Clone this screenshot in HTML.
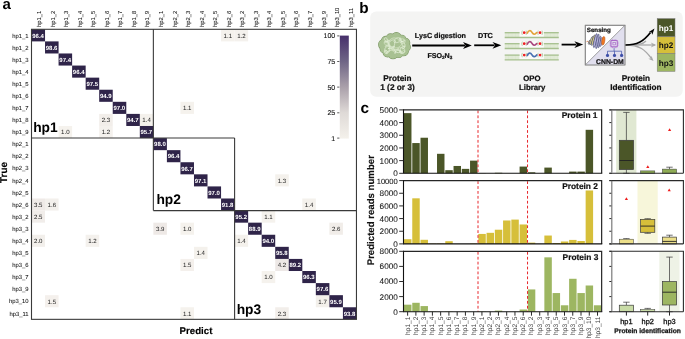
<!DOCTYPE html>
<html><head><meta charset="utf-8"><title>Figure</title>
<style>html,body{margin:0;padding:0;background:#fff;}body{width:685px;height:339px;position:relative;overflow:hidden;font-family:"Liberation Sans", sans-serif;}</style>
</head><body>
<svg width="685" height="339" viewBox="0 0 685 339" style="position:absolute;left:0;top:0;will-change:transform" text-rendering="geometricPrecision" font-family='"Liberation Sans", sans-serif'>
<defs><linearGradient id="cb" x1="0" y1="0" x2="0" y2="1"><stop offset="0" stop-color="#47306b"/><stop offset="0.25" stop-color="#6f6586"/><stop offset="0.5" stop-color="#aaa0aa"/><stop offset="0.75" stop-color="#dfdad7"/><stop offset="1" stop-color="#f4f1eb"/></linearGradient><marker id="ah" viewBox="0 0 10 10" refX="9" refY="5" markerWidth="4" markerHeight="4" orient="auto-start-reverse" markerUnits="userSpaceOnUse"><path d="M0 0 L10 5 L0 10 L3 5 Z" fill="#000"/></marker></defs>
<rect width="685" height="339" fill="#fff"/>
<text x="2.5" y="9.4" font-size="15" font-weight="bold" fill="#000">a</text>
<rect x="221.06" y="29.30" width="13.54" height="12.09" fill="#f5f2ed"/>
<text x="227.83" y="37.69" font-size="6.1" fill="#1a1a1a" text-anchor="middle">1.1</text>
<rect x="234.60" y="29.30" width="13.54" height="12.09" fill="#f4f1ed"/>
<text x="241.37" y="37.69" font-size="6.1" fill="#1a1a1a" text-anchor="middle">1.2</text>
<rect x="180.44" y="101.81" width="13.54" height="12.09" fill="#f5f2ed"/>
<text x="187.21" y="110.20" font-size="6.1" fill="#1a1a1a" text-anchor="middle">1.1</text>
<rect x="99.20" y="113.89" width="13.54" height="12.09" fill="#f2eeea"/>
<text x="105.97" y="122.29" font-size="6.1" fill="#1a1a1a" text-anchor="middle">2.3</text>
<rect x="139.82" y="113.89" width="13.54" height="12.09" fill="#f4f1ec"/>
<text x="146.59" y="122.29" font-size="6.1" fill="#1a1a1a" text-anchor="middle">1.4</text>
<rect x="58.58" y="125.98" width="13.54" height="12.09" fill="#f5f2ed"/>
<text x="65.35" y="134.37" font-size="6.1" fill="#1a1a1a" text-anchor="middle">1.0</text>
<rect x="99.20" y="125.98" width="13.54" height="12.09" fill="#f4f1ed"/>
<text x="105.97" y="134.37" font-size="6.1" fill="#1a1a1a" text-anchor="middle">1.2</text>
<rect x="275.22" y="174.32" width="13.54" height="12.09" fill="#f4f1ec"/>
<text x="281.99" y="182.71" font-size="6.1" fill="#1a1a1a" text-anchor="middle">1.3</text>
<rect x="31.50" y="198.49" width="13.54" height="12.09" fill="#efeae7"/>
<text x="38.27" y="206.88" font-size="6.1" fill="#1a1a1a" text-anchor="middle">3.5</text>
<rect x="45.04" y="198.49" width="13.54" height="12.09" fill="#f3f0ec"/>
<text x="51.81" y="206.88" font-size="6.1" fill="#1a1a1a" text-anchor="middle">1.6</text>
<rect x="302.30" y="198.49" width="13.54" height="12.09" fill="#f4f1ec"/>
<text x="309.07" y="206.88" font-size="6.1" fill="#1a1a1a" text-anchor="middle">1.4</text>
<rect x="31.50" y="210.58" width="13.54" height="12.09" fill="#f1edea"/>
<text x="38.27" y="218.97" font-size="6.1" fill="#1a1a1a" text-anchor="middle">2.5</text>
<rect x="261.68" y="210.58" width="13.54" height="12.09" fill="#f5f2ed"/>
<text x="268.45" y="218.97" font-size="6.1" fill="#1a1a1a" text-anchor="middle">1.1</text>
<rect x="153.36" y="222.66" width="13.54" height="12.09" fill="#eee9e6"/>
<text x="160.13" y="231.05" font-size="6.1" fill="#1a1a1a" text-anchor="middle">3.9</text>
<rect x="180.44" y="222.66" width="13.54" height="12.09" fill="#f5f2ed"/>
<text x="187.21" y="231.05" font-size="6.1" fill="#1a1a1a" text-anchor="middle">1.0</text>
<rect x="329.38" y="222.66" width="13.54" height="12.09" fill="#f1ede9"/>
<text x="336.15" y="231.05" font-size="6.1" fill="#1a1a1a" text-anchor="middle">2.6</text>
<rect x="31.50" y="234.75" width="13.54" height="12.09" fill="#f2efeb"/>
<text x="38.27" y="243.14" font-size="6.1" fill="#1a1a1a" text-anchor="middle">2.0</text>
<rect x="85.66" y="234.75" width="13.54" height="12.09" fill="#f4f1ed"/>
<text x="92.43" y="243.14" font-size="6.1" fill="#1a1a1a" text-anchor="middle">1.2</text>
<rect x="234.60" y="234.75" width="13.54" height="12.09" fill="#f4f1ec"/>
<text x="241.37" y="243.14" font-size="6.1" fill="#1a1a1a" text-anchor="middle">1.4</text>
<rect x="193.98" y="246.83" width="13.54" height="12.09" fill="#f4f1ec"/>
<text x="200.75" y="255.22" font-size="6.1" fill="#1a1a1a" text-anchor="middle">1.4</text>
<rect x="180.44" y="258.92" width="13.54" height="12.09" fill="#f4f0ec"/>
<text x="187.21" y="267.31" font-size="6.1" fill="#1a1a1a" text-anchor="middle">1.5</text>
<rect x="275.22" y="258.92" width="13.54" height="12.09" fill="#ede8e6"/>
<text x="281.99" y="267.31" font-size="6.1" fill="#1a1a1a" text-anchor="middle">4.2</text>
<rect x="261.68" y="271.00" width="13.54" height="12.09" fill="#f5f2ed"/>
<text x="268.45" y="279.39" font-size="6.1" fill="#1a1a1a" text-anchor="middle">1.0</text>
<rect x="45.04" y="295.17" width="13.54" height="12.09" fill="#f4f0ec"/>
<text x="51.81" y="303.56" font-size="6.1" fill="#1a1a1a" text-anchor="middle">1.5</text>
<rect x="315.84" y="295.17" width="13.54" height="12.09" fill="#f3f0eb"/>
<text x="322.61" y="303.56" font-size="6.1" fill="#1a1a1a" text-anchor="middle">1.7</text>
<rect x="180.44" y="307.26" width="13.54" height="12.09" fill="#f5f2ed"/>
<text x="187.21" y="315.65" font-size="6.1" fill="#1a1a1a" text-anchor="middle">1.1</text>
<rect x="275.22" y="307.26" width="13.54" height="12.09" fill="#f2eeea"/>
<text x="281.99" y="315.65" font-size="6.1" fill="#1a1a1a" text-anchor="middle">2.3</text>
<rect x="31.50" y="29.30" width="13.54" height="12.09" fill="#2f2449"/>
<text x="38.07" y="37.64" font-size="6.0" font-weight="bold" fill="#fff" text-anchor="middle">96.4</text>
<rect x="45.04" y="41.39" width="13.54" height="12.09" fill="#2f2449"/>
<text x="51.61" y="49.73" font-size="6.0" font-weight="bold" fill="#fff" text-anchor="middle">98.6</text>
<rect x="58.58" y="53.47" width="13.54" height="12.09" fill="#2f2449"/>
<text x="65.15" y="61.81" font-size="6.0" font-weight="bold" fill="#fff" text-anchor="middle">97.4</text>
<rect x="72.12" y="65.56" width="13.54" height="12.09" fill="#2f2449"/>
<text x="78.69" y="73.90" font-size="6.0" font-weight="bold" fill="#fff" text-anchor="middle">96.4</text>
<rect x="85.66" y="77.64" width="13.54" height="12.09" fill="#2f2449"/>
<text x="92.23" y="85.98" font-size="6.0" font-weight="bold" fill="#fff" text-anchor="middle">97.5</text>
<rect x="99.20" y="89.73" width="13.54" height="12.09" fill="#2f2449"/>
<text x="105.77" y="98.07" font-size="6.0" font-weight="bold" fill="#fff" text-anchor="middle">94.9</text>
<rect x="112.74" y="101.81" width="13.54" height="12.09" fill="#2f2449"/>
<text x="119.31" y="110.15" font-size="6.0" font-weight="bold" fill="#fff" text-anchor="middle">97.0</text>
<rect x="126.28" y="113.89" width="13.54" height="12.09" fill="#2f2449"/>
<text x="132.85" y="122.24" font-size="6.0" font-weight="bold" fill="#fff" text-anchor="middle">94.7</text>
<rect x="139.82" y="125.98" width="13.54" height="12.09" fill="#2f2449"/>
<text x="146.39" y="134.32" font-size="6.0" font-weight="bold" fill="#fff" text-anchor="middle">95.7</text>
<rect x="153.36" y="138.07" width="13.54" height="12.09" fill="#2f2449"/>
<text x="159.93" y="146.41" font-size="6.0" font-weight="bold" fill="#fff" text-anchor="middle">98.0</text>
<rect x="166.90" y="150.15" width="13.54" height="12.09" fill="#2f2449"/>
<text x="173.47" y="158.49" font-size="6.0" font-weight="bold" fill="#fff" text-anchor="middle">96.4</text>
<rect x="180.44" y="162.24" width="13.54" height="12.09" fill="#2f2449"/>
<text x="187.01" y="170.58" font-size="6.0" font-weight="bold" fill="#fff" text-anchor="middle">96.7</text>
<rect x="193.98" y="174.32" width="13.54" height="12.09" fill="#2f2449"/>
<text x="200.55" y="182.66" font-size="6.0" font-weight="bold" fill="#fff" text-anchor="middle">97.1</text>
<rect x="207.52" y="186.41" width="13.54" height="12.09" fill="#2f2449"/>
<text x="214.09" y="194.75" font-size="6.0" font-weight="bold" fill="#fff" text-anchor="middle">97.0</text>
<rect x="221.06" y="198.49" width="13.54" height="12.09" fill="#2f2449"/>
<text x="227.63" y="206.83" font-size="6.0" font-weight="bold" fill="#fff" text-anchor="middle">91.8</text>
<rect x="234.60" y="210.58" width="13.54" height="12.09" fill="#2f2449"/>
<text x="241.17" y="218.92" font-size="6.0" font-weight="bold" fill="#fff" text-anchor="middle">95.2</text>
<rect x="248.14" y="222.66" width="13.54" height="12.09" fill="#2f2449"/>
<text x="254.71" y="231.00" font-size="6.0" font-weight="bold" fill="#fff" text-anchor="middle">88.9</text>
<rect x="261.68" y="234.75" width="13.54" height="12.09" fill="#2f2449"/>
<text x="268.25" y="243.09" font-size="6.0" font-weight="bold" fill="#fff" text-anchor="middle">94.0</text>
<rect x="275.22" y="246.83" width="13.54" height="12.09" fill="#2f2449"/>
<text x="281.79" y="255.17" font-size="6.0" font-weight="bold" fill="#fff" text-anchor="middle">95.8</text>
<rect x="288.76" y="258.92" width="13.54" height="12.09" fill="#2f2449"/>
<text x="295.33" y="267.26" font-size="6.0" font-weight="bold" fill="#fff" text-anchor="middle">89.2</text>
<rect x="302.30" y="271.00" width="13.54" height="12.09" fill="#2f2449"/>
<text x="308.87" y="279.34" font-size="6.0" font-weight="bold" fill="#fff" text-anchor="middle">96.3</text>
<rect x="315.84" y="283.09" width="13.54" height="12.09" fill="#2f2449"/>
<text x="322.41" y="291.43" font-size="6.0" font-weight="bold" fill="#fff" text-anchor="middle">97.6</text>
<rect x="329.38" y="295.17" width="13.54" height="12.09" fill="#2f2449"/>
<text x="335.95" y="303.51" font-size="6.0" font-weight="bold" fill="#fff" text-anchor="middle">95.9</text>
<rect x="342.92" y="307.26" width="13.54" height="12.09" fill="#2f2449"/>
<text x="349.49" y="315.60" font-size="6.0" font-weight="bold" fill="#fff" text-anchor="middle">93.8</text>
<rect x="31.50" y="29.30" width="324.96" height="290.04" fill="none" stroke="#3a3a3a" stroke-width="1.1"/>
<path d="M31.50 138.07 H234.60 M153.36 210.58 H356.46 M153.36 29.30 V210.58 M234.60 138.07 V319.34" stroke="#3a3a3a" stroke-width="1.1" fill="none"/>
<text transform="translate(41.17,27) rotate(-90)" font-size="5.8" fill="#111" stroke="#111" stroke-width="0.06" text-anchor="start">hp1_1</text>
<text x="28.6" y="37.54" font-size="5.9" fill="#111" stroke="#111" stroke-width="0.06" text-anchor="end">hp1_1</text>
<text transform="translate(54.71,27) rotate(-90)" font-size="5.8" fill="#111" stroke="#111" stroke-width="0.06" text-anchor="start">hp1_2</text>
<text x="28.6" y="49.63" font-size="5.9" fill="#111" stroke="#111" stroke-width="0.06" text-anchor="end">hp1_2</text>
<text transform="translate(68.25,27) rotate(-90)" font-size="5.8" fill="#111" stroke="#111" stroke-width="0.06" text-anchor="start">hp1_3</text>
<text x="28.6" y="61.71" font-size="5.9" fill="#111" stroke="#111" stroke-width="0.06" text-anchor="end">hp1_3</text>
<text transform="translate(81.79,27) rotate(-90)" font-size="5.8" fill="#111" stroke="#111" stroke-width="0.06" text-anchor="start">hp1_4</text>
<text x="28.6" y="73.80" font-size="5.9" fill="#111" stroke="#111" stroke-width="0.06" text-anchor="end">hp1_4</text>
<text transform="translate(95.33,27) rotate(-90)" font-size="5.8" fill="#111" stroke="#111" stroke-width="0.06" text-anchor="start">hp1_5</text>
<text x="28.6" y="85.88" font-size="5.9" fill="#111" stroke="#111" stroke-width="0.06" text-anchor="end">hp1_5</text>
<text transform="translate(108.87,27) rotate(-90)" font-size="5.8" fill="#111" stroke="#111" stroke-width="0.06" text-anchor="start">hp1_6</text>
<text x="28.6" y="97.97" font-size="5.9" fill="#111" stroke="#111" stroke-width="0.06" text-anchor="end">hp1_6</text>
<text transform="translate(122.41,27) rotate(-90)" font-size="5.8" fill="#111" stroke="#111" stroke-width="0.06" text-anchor="start">hp1_7</text>
<text x="28.6" y="110.05" font-size="5.9" fill="#111" stroke="#111" stroke-width="0.06" text-anchor="end">hp1_7</text>
<text transform="translate(135.95,27) rotate(-90)" font-size="5.8" fill="#111" stroke="#111" stroke-width="0.06" text-anchor="start">hp1_8</text>
<text x="28.6" y="122.14" font-size="5.9" fill="#111" stroke="#111" stroke-width="0.06" text-anchor="end">hp1_8</text>
<text transform="translate(149.49,27) rotate(-90)" font-size="5.8" fill="#111" stroke="#111" stroke-width="0.06" text-anchor="start">hp1_9</text>
<text x="28.6" y="134.22" font-size="5.9" fill="#111" stroke="#111" stroke-width="0.06" text-anchor="end">hp1_9</text>
<text transform="translate(163.03,27) rotate(-90)" font-size="5.8" fill="#111" stroke="#111" stroke-width="0.06" text-anchor="start">hp2_1</text>
<text x="28.6" y="146.31" font-size="5.9" fill="#111" stroke="#111" stroke-width="0.06" text-anchor="end">hp2_1</text>
<text transform="translate(176.57,27) rotate(-90)" font-size="5.8" fill="#111" stroke="#111" stroke-width="0.06" text-anchor="start">hp2_2</text>
<text x="28.6" y="158.39" font-size="5.9" fill="#111" stroke="#111" stroke-width="0.06" text-anchor="end">hp2_2</text>
<text transform="translate(190.11,27) rotate(-90)" font-size="5.8" fill="#111" stroke="#111" stroke-width="0.06" text-anchor="start">hp2_3</text>
<text x="28.6" y="170.48" font-size="5.9" fill="#111" stroke="#111" stroke-width="0.06" text-anchor="end">hp2_3</text>
<text transform="translate(203.65,27) rotate(-90)" font-size="5.8" fill="#111" stroke="#111" stroke-width="0.06" text-anchor="start">hp2_4</text>
<text x="28.6" y="182.56" font-size="5.9" fill="#111" stroke="#111" stroke-width="0.06" text-anchor="end">hp2_4</text>
<text transform="translate(217.19,27) rotate(-90)" font-size="5.8" fill="#111" stroke="#111" stroke-width="0.06" text-anchor="start">hp2_5</text>
<text x="28.6" y="194.65" font-size="5.9" fill="#111" stroke="#111" stroke-width="0.06" text-anchor="end">hp2_5</text>
<text transform="translate(230.73,27) rotate(-90)" font-size="5.8" fill="#111" stroke="#111" stroke-width="0.06" text-anchor="start">hp2_6</text>
<text x="28.6" y="206.73" font-size="5.9" fill="#111" stroke="#111" stroke-width="0.06" text-anchor="end">hp2_6</text>
<text transform="translate(244.27,27) rotate(-90)" font-size="5.8" fill="#111" stroke="#111" stroke-width="0.06" text-anchor="start">hp3_2</text>
<text x="28.6" y="218.82" font-size="5.9" fill="#111" stroke="#111" stroke-width="0.06" text-anchor="end">hp3_2</text>
<text transform="translate(257.81,27) rotate(-90)" font-size="5.8" fill="#111" stroke="#111" stroke-width="0.06" text-anchor="start">hp3_3</text>
<text x="28.6" y="230.90" font-size="5.9" fill="#111" stroke="#111" stroke-width="0.06" text-anchor="end">hp3_3</text>
<text transform="translate(271.35,27) rotate(-90)" font-size="5.8" fill="#111" stroke="#111" stroke-width="0.06" text-anchor="start">hp3_4</text>
<text x="28.6" y="242.99" font-size="5.9" fill="#111" stroke="#111" stroke-width="0.06" text-anchor="end">hp3_4</text>
<text transform="translate(284.89,27) rotate(-90)" font-size="5.8" fill="#111" stroke="#111" stroke-width="0.06" text-anchor="start">hp3_5</text>
<text x="28.6" y="255.07" font-size="5.9" fill="#111" stroke="#111" stroke-width="0.06" text-anchor="end">hp3_5</text>
<text transform="translate(298.43,27) rotate(-90)" font-size="5.8" fill="#111" stroke="#111" stroke-width="0.06" text-anchor="start">hp3_6</text>
<text x="28.6" y="267.16" font-size="5.9" fill="#111" stroke="#111" stroke-width="0.06" text-anchor="end">hp3_6</text>
<text transform="translate(311.97,27) rotate(-90)" font-size="5.8" fill="#111" stroke="#111" stroke-width="0.06" text-anchor="start">hp3_7</text>
<text x="28.6" y="279.24" font-size="5.9" fill="#111" stroke="#111" stroke-width="0.06" text-anchor="end">hp3_7</text>
<text transform="translate(325.51,27) rotate(-90)" font-size="5.8" fill="#111" stroke="#111" stroke-width="0.06" text-anchor="start">hp3_9</text>
<text x="28.6" y="291.33" font-size="5.9" fill="#111" stroke="#111" stroke-width="0.06" text-anchor="end">hp3_9</text>
<text transform="translate(339.05,27) rotate(-90)" font-size="5.8" fill="#111" stroke="#111" stroke-width="0.06" text-anchor="start">hp3_10</text>
<text x="28.6" y="303.41" font-size="5.9" fill="#111" stroke="#111" stroke-width="0.06" text-anchor="end">hp3_10</text>
<text transform="translate(352.59,27) rotate(-90)" font-size="5.8" fill="#111" stroke="#111" stroke-width="0.06" text-anchor="start">hp3_11</text>
<text x="28.6" y="315.50" font-size="5.9" fill="#111" stroke="#111" stroke-width="0.06" text-anchor="end">hp3_11</text>
<text x="33.2" y="132" font-size="13.8" font-weight="bold" fill="#000">hp1</text>
<text x="156.4" y="203.8" font-size="13.8" font-weight="bold" fill="#000">hp2</text>
<text x="236.7" y="313.6" font-size="13.8" font-weight="bold" fill="#000">hp3</text>
<text transform="translate(7.3,172.5) rotate(-90)" font-size="9.9" font-weight="bold" fill="#000" stroke="#000" stroke-width="0.15" text-anchor="middle">True</text>
<text x="196" y="333.9" font-size="9.7" font-weight="bold" fill="#000" stroke="#000" stroke-width="0.15" text-anchor="middle">Predict</text>
<rect x="339.8" y="35.6" width="9" height="103" fill="url(#cb)"/>
<line x1="337.2" y1="35.9" x2="339.4" y2="35.9" stroke="#333" stroke-width="0.8"/>
<text x="335.2" y="38.30" font-size="7" fill="#111" stroke="#111" stroke-width="0.1" text-anchor="end">100</text>
<line x1="337.2" y1="61.5" x2="339.4" y2="61.5" stroke="#333" stroke-width="0.8"/>
<text x="335.2" y="63.90" font-size="7" fill="#111" stroke="#111" stroke-width="0.1" text-anchor="end">75</text>
<line x1="337.2" y1="87.1" x2="339.4" y2="87.1" stroke="#333" stroke-width="0.8"/>
<text x="335.2" y="89.50" font-size="7" fill="#111" stroke="#111" stroke-width="0.1" text-anchor="end">50</text>
<line x1="337.2" y1="112.8" x2="339.4" y2="112.8" stroke="#333" stroke-width="0.8"/>
<text x="335.2" y="115.20" font-size="7" fill="#111" stroke="#111" stroke-width="0.1" text-anchor="end">25</text>
<line x1="337.2" y1="138.1" x2="339.4" y2="138.1" stroke="#333" stroke-width="0.8"/>
<text x="335.2" y="140.50" font-size="7" fill="#111" stroke="#111" stroke-width="0.1" text-anchor="end">1</text>
<text x="359.3" y="12.6" font-size="15.3" font-weight="bold" fill="#000">b</text>
<rect x="370.2" y="11.6" width="312.5" height="85.1" rx="6" fill="#f4f4f3"/>
<g>
<circle cx="405.87" cy="47.04" r="4.40" fill="#7f9a68" stroke="#7f9a68" stroke-width="1.2"/>
<circle cx="403.53" cy="50.98" r="4.77" fill="#7f9a68" stroke="#7f9a68" stroke-width="1.2"/>
<circle cx="398.82" cy="53.53" r="3.90" fill="#7f9a68" stroke="#7f9a68" stroke-width="1.2"/>
<circle cx="393.01" cy="54.01" r="4.69" fill="#7f9a68" stroke="#7f9a68" stroke-width="1.2"/>
<circle cx="387.65" cy="52.29" r="4.51" fill="#7f9a68" stroke="#7f9a68" stroke-width="1.2"/>
<circle cx="384.18" cy="48.83" r="3.96" fill="#7f9a68" stroke="#7f9a68" stroke-width="1.2"/>
<circle cx="383.53" cy="44.56" r="4.87" fill="#7f9a68" stroke="#7f9a68" stroke-width="1.2"/>
<circle cx="385.87" cy="40.62" r="4.21" fill="#7f9a68" stroke="#7f9a68" stroke-width="1.2"/>
<circle cx="390.58" cy="38.07" r="4.18" fill="#7f9a68" stroke="#7f9a68" stroke-width="1.2"/>
<circle cx="396.39" cy="37.59" r="4.88" fill="#7f9a68" stroke="#7f9a68" stroke-width="1.2"/>
<circle cx="401.75" cy="39.31" r="3.98" fill="#7f9a68" stroke="#7f9a68" stroke-width="1.2"/>
<circle cx="405.22" cy="42.77" r="4.48" fill="#7f9a68" stroke="#7f9a68" stroke-width="1.2"/>
<ellipse cx="394.7" cy="45.8" rx="12.5" ry="9.5" fill="#7f9a68" stroke="#7f9a68" stroke-width="1.2"/>
<circle cx="405.87" cy="47.04" r="4.40" fill="#a8c192"/>
<circle cx="403.53" cy="50.98" r="4.77" fill="#a8c192"/>
<circle cx="398.82" cy="53.53" r="3.90" fill="#a8c192"/>
<circle cx="393.01" cy="54.01" r="4.69" fill="#a8c192"/>
<circle cx="387.65" cy="52.29" r="4.51" fill="#a8c192"/>
<circle cx="384.18" cy="48.83" r="3.96" fill="#a8c192"/>
<circle cx="383.53" cy="44.56" r="4.87" fill="#a8c192"/>
<circle cx="385.87" cy="40.62" r="4.21" fill="#a8c192"/>
<circle cx="390.58" cy="38.07" r="4.18" fill="#a8c192"/>
<circle cx="396.39" cy="37.59" r="4.88" fill="#a8c192"/>
<circle cx="401.75" cy="39.31" r="3.98" fill="#a8c192"/>
<circle cx="405.22" cy="42.77" r="4.48" fill="#a8c192"/>
<ellipse cx="394.7" cy="45.8" rx="12.5" ry="9.5" fill="#a8c192"/>
<path d="M397.36 52.51 L398.07 52.63 L398.74 52.61 L399.35 52.48 L399.86 52.25 L400.27 51.95 L400.55 51.61 L400.71 51.27 L400.74 50.95 L400.67 50.69 L400.51 50.51 L400.30 50.43 L400.06 50.45 L399.82 50.58 L399.63 50.82 L399.50 51.14 L399.46 51.52 L399.53 51.94 L399.71 52.37 L400.01 52.76 L400.41 53.10 L400.91 53.34 L401.47 53.47 L402.06 53.48 L402.66 53.35 L403.24 53.09 L403.75 52.71 L404.17 52.22 L404.49 51.66 L404.68 51.04 L404.74 50.42 L404.67 49.80 L404.49 49.24 L404.21 48.75 L403.86 48.36 L403.48 48.08 L403.08 47.91 L402.71 47.85 L402.39 47.89 L402.15 48.01 L402.02 48.18 L401.99 48.38 L402.08 48.56 L402.28 48.70 L402.57 48.77 L402.94 48.74 L403.35 48.60 L403.77 48.34 L404.17 47.95 L404.53 47.45 L404.80 46.84 L404.97 46.17 L405.02 45.44 L404.94 44.70 L404.73 43.97 L404.40 43.30 L403.97 42.71 L403.46 42.22 L402.90 41.84 L402.32 41.60 L401.75 41.48 L401.23 41.47 L400.79 41.57 L400.44 41.74 L400.20 41.95 L400.07 42.18 L400.06 42.38 L400.15 42.54 L400.33 42.62 L400.56 42.61 L400.82 42.49 L401.07 42.25 L401.28 41.91 L401.43 41.47 L401.48 40.96 L401.42 40.41 L401.24 39.83 L400.93 39.28 L400.50 38.77 L399.96 38.35 L399.34 38.03 L398.66 37.83 L397.95 37.76 L397.26 37.83 L396.60 38.03 L396.02 38.34 L395.52 38.74 L395.14 39.20 L394.88 39.69 L394.74 40.17 L394.71 40.62 L394.77 41.01 L394.90 41.31 L395.08 41.51 L395.27 41.59 L395.43 41.57 L395.54 41.45 L395.57 41.25 L395.50 40.99 L395.32 40.71 L395.01 40.43 L394.58 40.18 L394.05 40.01 L393.43 39.93 L392.75 39.96 L392.04 40.12 L391.33 40.41 L390.66 40.83 L390.05 41.36 L389.54 41.98 L389.13 42.66 L388.85 43.38 L388.69 44.09 L388.66 44.77 L388.73 45.39 L388.89 45.92 L389.10 46.35 L389.34 46.65 L389.58 46.83 L389.77 46.90 L389.90 46.88 L389.94 46.77 L389.87 46.62 L389.69 46.45 L389.39 46.29 L388.99 46.18 L388.49 46.14 L387.93 46.20 L387.34 46.37 L386.74 46.66 L386.16 47.06 L385.65 47.57 L385.23 48.16 L384.91 48.81 L384.72 49.50 L384.66 50.18 L384.73 50.83 L384.91 51.41 L385.19 51.90 L385.54 52.27 L385.92 52.51 L386.32 52.63 L386.69 52.61 L387.01 52.48 L387.25 52.25 L387.38 51.95 L387.41 51.61 L387.32 51.27 L387.12 50.95 L386.83 50.69 L386.46 50.51 L386.05 50.43 L385.63 50.45 L385.23 50.58 L384.87 50.82 L384.60 51.14 L384.43 51.52 L384.38 51.94 L384.46 52.37 L384.67 52.76 L385.00 53.10 L385.43 53.34 L385.94 53.47 L386.50 53.48 L387.08 53.35 L387.65 53.09 L388.17 52.71 L388.61 52.22 L388.96 51.66 L389.20 51.04 L389.33 50.42 L389.34 49.80 L389.25 49.24 L389.07 48.75 L388.84 48.36 L388.58 48.08 L388.33 47.91 L388.12 47.85 L387.97 47.89 L387.92 48.01 L387.98 48.18 L388.16 48.38 L388.47 48.56 L388.90 48.70 L389.44 48.77 L390.06 48.74 L390.74 48.60 L391.45 48.34 L392.14 47.95 L392.80 47.45 L393.38 46.84 L393.88 46.17 L394.26 45.44 L394.52 44.70 L394.66 43.97 L394.69 43.30 L394.63 42.71 L394.50 42.22 L394.32 41.84 L394.13 41.60 L393.97 41.48 L393.86 41.47 L393.83 41.57 L393.90 41.74 L394.08 41.95 L394.39 42.18 L394.82 42.38 L395.35 42.54 L395.97 42.62 L396.65 42.61 L397.36 42.49 L398.07 42.25 L398.74 41.91 L399.35 41.47 L399.86 40.96 L400.27 40.41 L400.55 39.83 L400.71 39.28 L400.74 38.77 L400.67 38.35 L400.51 38.03 L400.30 37.83 L400.06 37.76 L399.82 37.83 L399.63 38.03 L399.50 38.34 L399.46 38.74 L399.53 39.20 L399.71 39.69 L400.01 40.17 L400.41 40.62 L400.91 41.01 L401.47 41.31 L402.06 41.51 L402.66 41.59 L403.24 41.57 L403.75 41.45 L404.17 41.25 L404.49 40.99 L404.68 40.71 L404.74 40.43 L404.67 40.18 L404.49 40.01 L404.21 39.93 L403.86 39.96 L403.48 40.12 L403.08 40.41 L402.71 40.83 L402.39 41.36 L402.15 41.98 L402.02 42.66 L401.99 43.38 L402.08 44.09 L402.28 44.77 L402.57 45.39 L402.94 45.92 L403.35 46.35 L403.77 46.65 L404.17 46.83 L404.53 46.90 L404.80 46.88 L404.97 46.77 L405.02 46.62 L404.94 46.45 L404.73 46.29 L404.40 46.18 L403.97 46.14 L403.46 46.20 L402.90 46.37 L402.32 46.66 L401.75 47.06 L401.23 47.57 L400.79 48.16 L400.44 48.81 L400.20 49.50 L400.07 50.18 L400.06 50.83 L400.15 51.41 L400.33 51.90 L400.56 52.27 L400.82 52.51 L401.07 52.63 L401.28 52.61 L401.43 52.48 L401.48 52.25 L401.42 51.95 L401.24 51.61 L400.93 51.27 L400.50 50.95 L399.96 50.69 L399.34 50.51 L398.66 50.43 L397.95 50.45 L397.26 50.58 L396.60 50.82 L396.02 51.14 L395.52 51.52 L395.14 51.94 L394.88 52.37 L394.74 52.76 L394.71 53.10 L394.77 53.34 L394.90 53.47 L395.08 53.48 L395.27 53.35 L395.43 53.09 L395.54 52.71 L395.57 52.22 L395.50 51.66 L395.32 51.04 L395.01 50.42 L394.58 49.80 L394.05 49.24 L393.43 48.75 L392.75 48.36 L392.04 48.08 L391.33 47.91 L390.66 47.85 L390.05 47.89 L389.54 48.01 L389.13 48.18 L388.85 48.38 L388.69 48.56 L388.66 48.70 L388.73 48.77 L388.89 48.74 L389.10 48.60 L389.34 48.34 L389.58 47.95 L389.77 47.45 L389.90 46.84 L389.94 46.17 L389.87 45.44 L389.69 44.70 L389.39 43.97 L388.99 43.30 L388.49 42.71 L387.93 42.22 L387.34 41.84 L386.74 41.60 L386.16 41.48 L385.65 41.47 L385.23 41.57 L384.91 41.74 L384.72 41.95 L384.66 42.18 L384.73 42.38 L384.91 42.54 L385.19 42.62 L385.54 42.61 L385.92 42.49 L386.32 42.25 L386.69 41.91 L387.01 41.47 L387.25 40.96 L387.38 40.41 L387.41 39.83 L387.32 39.28 L387.12 38.77 L386.83 38.35 L386.46 38.03 L386.05 37.83 L385.63 37.76 L385.23 37.83 L384.87 38.03 L384.60 38.34 L384.43 38.74 L384.38 39.20 L384.46 39.69 L384.67 40.17 L385.00 40.62 L385.43 41.01 L385.94 41.31 L386.50 41.51 L387.08 41.59 L387.65 41.57 L388.17 41.45 L388.61 41.25 L388.96 40.99 L389.20 40.71 L389.33 40.43 L389.34 40.18 L389.25 40.01 L389.07 39.93 L388.84 39.96 L388.58 40.12 L388.33 40.41 L388.12 40.83 L387.97 41.36 L387.92 41.98 L387.98 42.66 L388.16 43.38 L388.47 44.09 L388.90 44.77 L389.44 45.39 L390.06 45.92 L390.74 46.35 L391.45 46.65 L392.14 46.83 L392.80 46.90 L393.38 46.88 L393.88 46.77 L394.26 46.62 L394.52 46.45 L394.66 46.29 L394.69 46.18 L394.63 46.14 L394.50 46.20 L394.32 46.37 L394.13 46.66 L393.97 47.06 L393.86 47.57 L393.83 48.16 L393.90 48.81 L394.08 49.50 L394.39 50.18 L394.82 50.83 L395.35 51.41 L395.97 51.90 L396.65 52.27" stroke="#eaf3df" stroke-width="0.7" fill="none" stroke-linecap="round" stroke-linejoin="round"/>
<path d="M403.22 48.57 L403.44 48.70 L403.62 48.74 L403.75 48.71 L403.80 48.60 L403.75 48.45 L403.61 48.26 L403.37 48.06 L403.02 47.87 L402.57 47.71 L402.04 47.60 L401.44 47.56 L400.79 47.60 L400.11 47.72 L399.41 47.92 L398.74 48.21 L398.10 48.58 L397.51 49.00 L396.98 49.47 L396.54 49.97 L396.17 50.46 L395.89 50.94 L395.69 51.38 L395.55 51.76 L395.46 52.06 L395.40 52.28 L395.36 52.41 L395.31 52.45 L395.23 52.39 L395.11 52.26 L394.92 52.06 L394.66 51.81 L394.32 51.54 L393.89 51.25 L393.38 50.98 L392.79 50.75 L392.14 50.56 L391.45 50.45 L390.73 50.41 L390.01 50.46 L389.30 50.59 L388.64 50.79 L388.04 51.07 L387.51 51.40 L387.08 51.77 L386.74 52.16 L386.51 52.54 L386.38 52.89 L386.34 53.20 L386.38 53.44 L386.48 53.61 L386.64 53.68 L386.82 53.66 L387.00 53.55 L387.16 53.35 L387.30 53.08 L387.38 52.74 L387.40 52.36 L387.35 51.95 L387.22 51.54 L387.04 51.16 L386.79 50.81 L386.49 50.52 L386.17 50.30 L385.84 50.16 L385.52 50.10 L385.24 50.13 L385.01 50.23 L384.85 50.40 L384.78 50.63 L384.81 50.88 L384.95 51.14 L385.19 51.40 L385.53 51.62 L385.96 51.79 L386.48 51.90 L387.05 51.92 L387.66 51.85 L388.29 51.69 L388.91 51.44 L389.51 51.11 L390.06 50.70 L390.56 50.24 L390.98 49.75 L391.32 49.24 L391.59 48.73 L391.78 48.25 L391.91 47.82 L391.98 47.45 L392.02 47.16 L392.05 46.96 L392.08 46.84 L392.13 46.80 L392.24 46.85 L392.40 46.95 L392.64 47.11 L392.97 47.29 L393.38 47.49 L393.88 47.66 L394.47 47.81 L395.12 47.90 L395.83 47.92 L396.57 47.86 L397.33 47.72 L398.08 47.48 L398.80 47.16 L399.47 46.76 L400.07 46.30 L400.58 45.79 L401.00 45.25 L401.32 44.71 L401.54 44.18 L401.67 43.69 L401.72 43.26 L401.70 42.90 L401.63 42.62 L401.54 42.43 L401.43 42.33 L401.34 42.31 L401.28 42.38 L401.26 42.50 L401.31 42.68 L401.43 42.88 L401.62 43.08 L401.87 43.27 L402.20 43.42 L402.57 43.52 L402.97 43.55 L403.40 43.50 L403.81 43.36 L404.20 43.14 L404.54 42.84 L404.81 42.47 L404.99 42.04 L405.08 41.57 L405.07 41.08 L404.94 40.60 L404.72 40.15 L404.39 39.74 L403.98 39.39 L403.51 39.12 L402.98 38.94 L402.43 38.85 L401.88 38.85 L401.34 38.94 L400.84 39.11 L400.40 39.34 L400.02 39.61 L399.71 39.91 L399.48 40.20 L399.32 40.48 L399.23 40.72 L399.19 40.90 L399.18 41.01 L399.20 41.04 L399.20 40.99 L399.19 40.85 L399.13 40.63 L399.01 40.36 L398.81 40.03 L398.53 39.67 L398.15 39.30 L397.68 38.94 L397.12 38.61 L396.49 38.34 L395.79 38.13 L395.04 38.01 L394.27 37.97 L393.50 38.04 L392.75 38.19 L392.04 38.43 L391.39 38.74 L390.82 39.11 L390.33 39.51 L389.94 39.94 L389.65 40.36 L389.45 40.75 L389.32 41.10 L389.27 41.38 L389.27 41.60 L389.30 41.73 L389.34 41.77 L389.37 41.74 L389.38 41.63 L389.33 41.45 L389.23 41.23 L389.06 40.99 L388.81 40.74 L388.49 40.50 L388.10 40.30 L387.65 40.16 L387.17 40.09 L386.66 40.11 L386.16 40.21 L385.67 40.41 L385.22 40.69 L384.84 41.06 L384.54 41.49 L384.33 41.97 L384.22 42.48 L384.22 43.00 L384.33 43.51 L384.54 43.98 L384.84 44.41 L385.21 44.76 L385.63 45.03 L386.09 45.22 L386.56 45.32 L387.02 45.34 L387.45 45.28 L387.83 45.16 L388.16 45.00 L388.41 44.81 L388.59 44.63 L388.70 44.46 L388.74 44.33 L388.73 44.26 L388.69 44.26 L388.62 44.34 L388.55 44.52 L388.51 44.78 L388.50 45.12 L388.56 45.54 L388.69 46.02 L388.92 46.53 L389.24 47.07 L389.65 47.61 L390.16 48.12 L390.75 48.60 L391.42 49.01 L392.14 49.34 L392.90 49.59 L393.67 49.75 L394.42 49.82 L395.15 49.80 L395.83 49.72 L396.43 49.57 L396.96 49.38 L397.40 49.16 L397.75 48.95 L398.00 48.76 L398.18 48.61 L398.29 48.53 L398.34 48.51 L398.36 48.57 L398.37 48.72 L398.38 48.96 L398.42 49.27 L398.51 49.65 L398.65 50.08 L398.87 50.55 L399.16 51.02 L399.53 51.48 L399.97 51.92 L400.48 52.30 L401.03 52.61 L401.61 52.84 L402.20 52.98 L402.78 53.03 L403.32 52.99 L403.81 52.86 L404.23 52.66 L404.55 52.40 L404.78 52.10 L404.90 51.79 L404.91 51.48 L404.82 51.20 L404.64 50.96 L404.38 50.78 L404.06 50.68 L403.70 50.66 L403.32 50.72 L402.95 50.86 L402.59 51.08 L402.28 51.36 L402.03 51.68 L401.84 52.03 L401.72 52.39 L401.67 52.72 L401.69 53.02 L401.76 53.26 L401.88 53.43 L402.02 53.51 L402.16 53.50 L402.28 53.40 L402.36 53.20 L402.38 52.93 L402.33 52.58 L402.19 52.19 L401.95 51.76 L401.61 51.32 L401.17 50.89 L400.64 50.49 L400.03 50.15 L399.36 49.87 L398.64 49.66 L397.90 49.54 L397.16 49.51 L396.44 49.55 L395.76 49.67 L395.14 49.85 L394.59 50.06 L394.13 50.30 L393.76 50.54 L393.47 50.75 L393.26 50.92 L393.12 51.04 L393.03 51.07 L392.98 51.02 L392.95 50.88 L392.90 50.65 L392.84 50.33 L392.73 49.94 L392.56 49.48 L392.31 48.98 L391.99 48.46 L391.59 47.93 L391.11 47.42 L390.57 46.96 L389.97 46.55 L389.32 46.21 L388.67 45.96 L388.01 45.79 L387.38 45.71 L386.80 45.71 L386.28 45.79 L385.85 45.92 L385.51 46.08 L385.28 46.27 L385.15 46.45 L385.12 46.61 L385.19 46.72 L385.34 46.78 L385.56 46.75 L385.82 46.64 L386.10 46.45 L386.39 46.16 L386.66 45.80 L386.89 45.36 L387.07 44.88 L387.19 44.35 L387.24 43.82 L387.22 43.29 L387.13 42.79 L386.98 42.34 L386.79 41.95 L386.58 41.65 L386.35 41.43 L386.14 41.30 L385.97 41.27 L385.85 41.31 L385.81 41.43 L385.85 41.60 L386.00 41.81 L386.24 42.03 L386.59 42.25 L387.03 42.44 L387.57 42.58 L388.17 42.66 L388.83 42.66" stroke="#dde9cf" stroke-width="0.7" fill="none" stroke-linecap="round" stroke-linejoin="round"/>
</g>
<line x1="412.2" y1="45.5" x2="465.00" y2="45.5" stroke="#000" stroke-width="1.8"/>
<path d="M471.8 45.5 L463.00 42.10 L465.60 45.5 L463.00 48.90 Z" fill="#000"/>
<line x1="474.2" y1="45.3" x2="494.50" y2="45.3" stroke="#000" stroke-width="1.8"/>
<path d="M501.3 45.3 L492.50 41.90 L495.10 45.3 L492.50 48.70 Z" fill="#000"/>
<line x1="561.6" y1="44.6" x2="576.40" y2="44.6" stroke="#000" stroke-width="1.8"/>
<path d="M583.2 44.6 L574.40 41.20 L577.00 44.6 L574.40 48.00 Z" fill="#000"/>
<text x="440.4" y="38.3" font-size="7.2" font-weight="bold" fill="#111" stroke="#111" stroke-width="0.22" text-anchor="middle">LysC digestion</text>
<text x="427.4" y="57.6" font-size="7.1" font-weight="bold" fill="#111" stroke="#111" stroke-width="0.22">FSO<tspan font-size="4.6" dy="1.6">2</tspan><tspan dy="-1.6">N</tspan><tspan font-size="4.6" dy="1.6">3</tspan></text>
<text x="485.4" y="38.3" font-size="7.25" font-weight="bold" fill="#111" stroke="#111" stroke-width="0.22" text-anchor="middle">DTC</text>
<text x="397.4" y="80.8" font-size="8.2" font-weight="bold" fill="#111" stroke="#111" stroke-width="0.22" text-anchor="middle">Protein</text>
<text x="397.5" y="89.9" font-size="8.3" font-weight="bold" fill="#111" stroke="#111" stroke-width="0.22" text-anchor="middle">1 (2 or 3)</text>
<text x="531.8" y="80.5" font-size="7.8" font-weight="bold" fill="#111" stroke="#111" stroke-width="0.22" text-anchor="middle">OPO</text>
<text x="532.2" y="89.7" font-size="7.8" font-weight="bold" fill="#111" stroke="#111" stroke-width="0.22" text-anchor="middle">Library</text>
<text x="635.9" y="80.7" font-size="8.2" font-weight="bold" fill="#111" stroke="#111" stroke-width="0.22" text-anchor="middle">Protein</text>
<text x="635.9" y="89.5" font-size="8.25" font-weight="bold" fill="#111" stroke="#111" stroke-width="0.22" text-anchor="middle">Identification</text>
<rect x="519.6" y="30.10" width="24.3" height="7.40" fill="#fbfbfa"/>
<rect x="504.7" y="32.7" width="14.90" height="4.80" fill="#e8efdf"/>
<path d="M505.70 32.70 V37.50 M507.10 32.70 V37.50 M508.50 32.70 V37.50 M509.90 32.70 V37.50 M511.30 32.70 V37.50 M512.70 32.70 V37.50 M514.10 32.70 V37.50 M515.50 32.70 V37.50 M516.90 32.70 V37.50 M518.30 32.70 V37.50" stroke="#d3e0c5" stroke-width="0.5"/>
<line x1="504.7" y1="32.7" x2="519.6" y2="32.7" stroke="#a6bf8e" stroke-width="1.3"/>
<rect x="543.9" y="32.7" width="14.90" height="4.80" fill="#e8efdf"/>
<path d="M544.90 32.70 V37.50 M546.30 32.70 V37.50 M547.70 32.70 V37.50 M549.10 32.70 V37.50 M550.50 32.70 V37.50 M551.90 32.70 V37.50 M553.30 32.70 V37.50 M554.70 32.70 V37.50 M556.10 32.70 V37.50 M557.50 32.70 V37.50" stroke="#d3e0c5" stroke-width="0.5"/>
<line x1="543.9" y1="32.7" x2="558.8" y2="32.7" stroke="#a6bf8e" stroke-width="1.3"/>
<line x1="504.7" y1="37.5" x2="558.8" y2="37.5" stroke="#a6bf8e" stroke-width="1.3"/>
<path d="M522.30 30.50 q-1.2 2.2 0 4.4 M526.10 30.50 q1.2 2.2 0 4.4" stroke="#8fb07a" stroke-width="0.6" fill="none"/>
<path d="M538.20 30.50 q-1.2 2.2 0 4.4 M542.00 30.50 q1.2 2.2 0 4.4" stroke="#8fb07a" stroke-width="0.6" fill="none"/>
<line x1="524.2" y1="32.7" x2="527.4" y2="32.7" stroke="#f09a9a" stroke-width="0.6"/>
<line x1="536.7" y1="32.7" x2="540.1" y2="32.7" stroke="#f09a9a" stroke-width="0.6"/>
<path d="M527.4 33.00 C528.4 30.20 530.6 30.00 531.8 32.20 C533 34.40 534.9 35.20 536.7 32.60" stroke="#e3a43c" stroke-width="1.7" fill="none" stroke-linecap="round"/>
<circle cx="524.2" cy="32.7" r="1.35" fill="#ee2222"/>
<circle cx="540.1" cy="32.7" r="1.35" fill="#ee2222"/>
<rect x="519.6" y="41.10" width="24.3" height="7.40" fill="#fbfbfa"/>
<rect x="504.7" y="43.7" width="14.90" height="4.80" fill="#e8efdf"/>
<path d="M505.70 43.70 V48.50 M507.10 43.70 V48.50 M508.50 43.70 V48.50 M509.90 43.70 V48.50 M511.30 43.70 V48.50 M512.70 43.70 V48.50 M514.10 43.70 V48.50 M515.50 43.70 V48.50 M516.90 43.70 V48.50 M518.30 43.70 V48.50" stroke="#d3e0c5" stroke-width="0.5"/>
<line x1="504.7" y1="43.7" x2="519.6" y2="43.7" stroke="#a6bf8e" stroke-width="1.3"/>
<rect x="543.9" y="43.7" width="14.90" height="4.80" fill="#e8efdf"/>
<path d="M544.90 43.70 V48.50 M546.30 43.70 V48.50 M547.70 43.70 V48.50 M549.10 43.70 V48.50 M550.50 43.70 V48.50 M551.90 43.70 V48.50 M553.30 43.70 V48.50 M554.70 43.70 V48.50 M556.10 43.70 V48.50 M557.50 43.70 V48.50" stroke="#d3e0c5" stroke-width="0.5"/>
<line x1="543.9" y1="43.7" x2="558.8" y2="43.7" stroke="#a6bf8e" stroke-width="1.3"/>
<line x1="504.7" y1="48.5" x2="558.8" y2="48.5" stroke="#a6bf8e" stroke-width="1.3"/>
<path d="M522.30 41.50 q-1.2 2.2 0 4.4 M526.10 41.50 q1.2 2.2 0 4.4" stroke="#8fb07a" stroke-width="0.6" fill="none"/>
<path d="M538.20 41.50 q-1.2 2.2 0 4.4 M542.00 41.50 q1.2 2.2 0 4.4" stroke="#8fb07a" stroke-width="0.6" fill="none"/>
<line x1="524.2" y1="43.7" x2="527.4" y2="43.7" stroke="#f09a9a" stroke-width="0.6"/>
<line x1="536.7" y1="43.7" x2="540.1" y2="43.7" stroke="#f09a9a" stroke-width="0.6"/>
<path d="M527.4 44.00 C528.4 41.20 530.6 41.00 531.8 43.20 C533 45.40 534.9 46.20 536.7 43.60" stroke="#a9487e" stroke-width="1.7" fill="none" stroke-linecap="round"/>
<circle cx="524.2" cy="43.7" r="1.35" fill="#ee2222"/>
<circle cx="540.1" cy="43.7" r="1.35" fill="#ee2222"/>
<rect x="519.6" y="52.50" width="24.3" height="7.40" fill="#fbfbfa"/>
<rect x="504.7" y="55.1" width="14.90" height="4.80" fill="#e8efdf"/>
<path d="M505.70 55.10 V59.90 M507.10 55.10 V59.90 M508.50 55.10 V59.90 M509.90 55.10 V59.90 M511.30 55.10 V59.90 M512.70 55.10 V59.90 M514.10 55.10 V59.90 M515.50 55.10 V59.90 M516.90 55.10 V59.90 M518.30 55.10 V59.90" stroke="#d3e0c5" stroke-width="0.5"/>
<line x1="504.7" y1="55.1" x2="519.6" y2="55.1" stroke="#a6bf8e" stroke-width="1.3"/>
<rect x="543.9" y="55.1" width="14.90" height="4.80" fill="#e8efdf"/>
<path d="M544.90 55.10 V59.90 M546.30 55.10 V59.90 M547.70 55.10 V59.90 M549.10 55.10 V59.90 M550.50 55.10 V59.90 M551.90 55.10 V59.90 M553.30 55.10 V59.90 M554.70 55.10 V59.90 M556.10 55.10 V59.90 M557.50 55.10 V59.90" stroke="#d3e0c5" stroke-width="0.5"/>
<line x1="543.9" y1="55.1" x2="558.8" y2="55.1" stroke="#a6bf8e" stroke-width="1.3"/>
<line x1="504.7" y1="59.9" x2="558.8" y2="59.9" stroke="#a6bf8e" stroke-width="1.3"/>
<path d="M522.30 52.90 q-1.2 2.2 0 4.4 M526.10 52.90 q1.2 2.2 0 4.4" stroke="#8fb07a" stroke-width="0.6" fill="none"/>
<path d="M538.20 52.90 q-1.2 2.2 0 4.4 M542.00 52.90 q1.2 2.2 0 4.4" stroke="#8fb07a" stroke-width="0.6" fill="none"/>
<line x1="524.2" y1="55.1" x2="527.4" y2="55.1" stroke="#f09a9a" stroke-width="0.6"/>
<line x1="536.7" y1="55.1" x2="540.1" y2="55.1" stroke="#f09a9a" stroke-width="0.6"/>
<path d="M527.4 55.40 C528.4 52.60 530.6 52.40 531.8 54.60 C533 56.80 534.9 57.60 536.7 55.00" stroke="#4a72b3" stroke-width="1.7" fill="none" stroke-linecap="round"/>
<circle cx="524.2" cy="55.1" r="1.35" fill="#ee2222"/>
<circle cx="540.1" cy="55.1" r="1.35" fill="#ee2222"/>
<rect x="585.3" y="25.3" width="39.6" height="39.6" fill="#fff" stroke="#8a8a8a" stroke-width="0.9"/>
<path d="M585.3 64.9 L624.9 25.3 L624.9 64.9 Z" fill="#e1dfee"/>
<line x1="585.3" y1="64.9" x2="624.9" y2="25.3" stroke="#8a8a8a" stroke-width="0.8"/>
<rect x="585.3" y="25.3" width="39.6" height="39.6" fill="none" stroke="#8a8a8a" stroke-width="0.9"/>
<text x="586.8" y="32.4" font-size="6.2" font-weight="bold" fill="#111" stroke="#111" stroke-width="0.22">Sensing</text>
<text x="623.8" y="64.1" font-size="6.85" font-weight="bold" fill="#111" stroke="#111" stroke-width="0.22" text-anchor="end">CNN-DM</text>
<path d="M586.6 41.7 q1 -0.8 2 0.3" stroke="#d06a30" stroke-width="0.9" fill="none"/>
<ellipse cx="589.4" cy="42.2" rx="0.8" ry="2.2" transform="rotate(20 589.4 42.2)" fill="#e6dc8c" stroke="#2c3064" stroke-width="0.5"/>
<ellipse cx="591.3" cy="40.6" rx="1.0" ry="4.4" transform="rotate(18 591.3 40.6)" fill="#e6dc8c" stroke="#2c3064" stroke-width="0.5"/>
<ellipse cx="593.3" cy="40.2" rx="1.0" ry="5.6" transform="rotate(15 593.3 40.2)" fill="#e3d98a" stroke="#2c3064" stroke-width="0.5"/>
<ellipse cx="595.3" cy="40.6" rx="1.2" ry="7.2" transform="rotate(12 595.3 40.6)" fill="#b8b4da" stroke="#2c3064" stroke-width="0.5"/>
<ellipse cx="597.4" cy="41.4" rx="1.1" ry="7.4" transform="rotate(10 597.4 41.4)" fill="#b4b0d8" stroke="#2c3064" stroke-width="0.5"/>
<ellipse cx="599.4" cy="42.0" rx="1.0" ry="6.0" transform="rotate(10 599.4 42.0)" fill="#bdb9dd" stroke="#2c3064" stroke-width="0.5"/>
<ellipse cx="601.1" cy="42.0" rx="0.9" ry="4.6" transform="rotate(10 601.1 42.0)" fill="#c2bfe0" stroke="#2c3064" stroke-width="0.5"/>
<ellipse cx="603.3" cy="40.8" rx="1.5" ry="4.3" transform="rotate(8 603.3 40.8)" fill="#f07a22" stroke="#b8501a" stroke-width="0.5"/>
<rect x="611" y="40.6" width="6.2" height="6.2" fill="none" stroke="#a35ac4" stroke-width="0.9"/>
<rect x="612.9" y="42.5" width="2.4" height="2.4" fill="none" stroke="#a35ac4" stroke-width="0.6"/>
<path d="M612.4 40.6 v-1.4 M614.1 40.6 v-1.4 M615.8 40.6 v-1.4 M612.4 46.8 v1.4 M614.1 46.8 v1.4 M615.8 46.8 v1.4 M611 42.2 h-1.4 M611 43.7 h-1.4 M611 45.2 h-1.4 M617.2 42.2 h1.4 M617.2 43.7 h1.4 M617.2 45.2 h1.4" stroke="#a35ac4" stroke-width="0.5"/>
<path d="M614.1 48.2 V51.2 M607.5 51.2 H621.6 M607.5 51.2 V55 M614.5 51.2 V55 M621.6 51.2 V55" stroke="#3e4fa8" stroke-width="0.7" fill="none"/>
<circle cx="607.5" cy="55.4" r="1.6" fill="#3e4fa8"/>
<circle cx="614.5" cy="55.4" r="1.6" fill="#3e4fa8"/>
<circle cx="621.6" cy="55.4" r="1.6" fill="#3e4fa8"/>
<path d="M625.5 45 C640 45 643 44 646 41" stroke="#a8a8a8" stroke-width="1.3" fill="none"/>
<path d="M625.5 45 H655" stroke="#aaaaaa" stroke-width="1.3" fill="none"/>
<path d="M656.2 45 l-5.4 -2.6 l1.7 2.6 l-1.7 2.6 Z" fill="#aaaaaa"/>
<path d="M625.5 45 C640 45 645 50 651.5 58.5" stroke="#a8a8a8" stroke-width="1.3" fill="none"/>
<path d="M653.5 61 l-5.2 -2.3 l2.6 -0.3 l0.6 -2.6 Z" fill="#a8a8a8"/>
<path d="M625.5 45 C637 45 643 42 650.5 32.5" stroke="#000" stroke-width="1.7" fill="none"/>
<path d="M654.5 28.6 l-2.2 6.2 l-0.9 -2.5 l-2.6 -0.4 Z" fill="#000"/>
<rect x="657.2" y="18.6" width="17.8" height="18.20" fill="#4b5628" stroke="#7a7a7a" stroke-width="0.5"/>
<text x="666.1" y="30.70" font-size="8.2" font-weight="bold" fill="#fff" text-anchor="middle">hp1</text>
<rect x="657.2" y="36.8" width="17.8" height="16.90" fill="#d6bf3a" stroke="#7a7a7a" stroke-width="0.5"/>
<text x="666.1" y="48.25" font-size="8.2" font-weight="bold" fill="#111" text-anchor="middle">hp2</text>
<rect x="657.2" y="53.7" width="17.8" height="17.70" fill="#9db661" stroke="#7a7a7a" stroke-width="0.5"/>
<text x="666.1" y="65.55" font-size="8.2" font-weight="bold" fill="#111" text-anchor="middle">hp3</text>
<text x="360.4" y="112.5" font-size="15.3" font-weight="bold" fill="#000">c</text>
<rect x="404.00" y="113.12" width="7.46" height="60.18" fill="#4b5628"/>
<rect x="412.26" y="143.06" width="7.46" height="30.24" fill="#4b5628"/>
<rect x="420.51" y="137.73" width="7.46" height="35.57" fill="#4b5628"/>
<rect x="437.02" y="153.81" width="7.46" height="19.49" fill="#4b5628"/>
<rect x="445.28" y="170.19" width="7.46" height="3.11" fill="#4b5628"/>
<rect x="453.54" y="165.97" width="7.46" height="7.33" fill="#4b5628"/>
<rect x="461.79" y="168.87" width="7.46" height="4.43" fill="#4b5628"/>
<rect x="470.05" y="160.65" width="7.46" height="12.65" fill="#4b5628"/>
<rect x="478.31" y="173.11" width="7.46" height="0.19" fill="#4b5628"/>
<rect x="494.82" y="172.79" width="7.46" height="0.51" fill="#4b5628"/>
<rect x="519.59" y="166.58" width="7.46" height="6.72" fill="#4b5628"/>
<rect x="527.84" y="172.29" width="7.46" height="1.01" fill="#4b5628"/>
<rect x="544.36" y="167.59" width="7.46" height="5.71" fill="#4b5628"/>
<rect x="569.12" y="171.59" width="7.46" height="1.71" fill="#4b5628"/>
<rect x="577.38" y="171.59" width="7.46" height="1.71" fill="#4b5628"/>
<rect x="585.64" y="129.81" width="7.46" height="43.49" fill="#4b5628"/>
<line x1="478.01" y1="110.50" x2="478.01" y2="173.30" stroke="#e8262b" stroke-width="1" stroke-dasharray="2.8 2.1"/>
<line x1="527.54" y1="110.50" x2="527.54" y2="173.30" stroke="#e8262b" stroke-width="1" stroke-dasharray="2.8 2.1"/>
<path d="M403.50 109.90 H601.65 V173.30" fill="none" stroke="#262626" stroke-width="1.2"/>
<path d="M403.50 109.30 V173.30 H602.25" fill="none" stroke="#111" stroke-width="1.1"/>
<line x1="399.2" y1="173.30" x2="403.50" y2="173.30" stroke="#2a2a2a" stroke-width="1"/>
<text x="397.8" y="176.25" font-size="8.2" fill="#111" stroke="#111" stroke-width="0.05" text-anchor="end">0</text>
<line x1="399.2" y1="160.62" x2="403.50" y2="160.62" stroke="#2a2a2a" stroke-width="1"/>
<text x="397.8" y="163.57" font-size="8.2" fill="#111" stroke="#111" stroke-width="0.05" text-anchor="end">1000</text>
<line x1="399.2" y1="147.94" x2="403.50" y2="147.94" stroke="#2a2a2a" stroke-width="1"/>
<text x="397.8" y="150.89" font-size="8.2" fill="#111" stroke="#111" stroke-width="0.05" text-anchor="end">2000</text>
<line x1="399.2" y1="135.26" x2="403.50" y2="135.26" stroke="#2a2a2a" stroke-width="1"/>
<text x="397.8" y="138.21" font-size="8.2" fill="#111" stroke="#111" stroke-width="0.05" text-anchor="end">3000</text>
<line x1="399.2" y1="122.58" x2="403.50" y2="122.58" stroke="#2a2a2a" stroke-width="1"/>
<text x="397.8" y="125.53" font-size="8.2" fill="#111" stroke="#111" stroke-width="0.05" text-anchor="end">4000</text>
<line x1="399.2" y1="109.90" x2="403.50" y2="109.90" stroke="#2a2a2a" stroke-width="1"/>
<text x="397.8" y="112.85" font-size="8.2" fill="#111" stroke="#111" stroke-width="0.05" text-anchor="end">5000</text>
<text x="597.5" y="118.20" font-size="8.35" font-weight="bold" fill="#111" stroke="#111" stroke-width="0.2" text-anchor="end">Protein 1</text>
<rect x="616.20" y="109.90" width="20.2" height="63.40" fill="#e0e8d2"/>
<line x1="609.3" y1="173.30" x2="611.8" y2="173.30" stroke="#2a2a2a" stroke-width="1"/>
<line x1="609.3" y1="160.62" x2="611.8" y2="160.62" stroke="#2a2a2a" stroke-width="1"/>
<line x1="609.3" y1="147.94" x2="611.8" y2="147.94" stroke="#2a2a2a" stroke-width="1"/>
<line x1="609.3" y1="135.26" x2="611.8" y2="135.26" stroke="#2a2a2a" stroke-width="1"/>
<line x1="609.3" y1="122.58" x2="611.8" y2="122.58" stroke="#2a2a2a" stroke-width="1"/>
<line x1="609.3" y1="109.90" x2="611.8" y2="109.90" stroke="#2a2a2a" stroke-width="1"/>
<line x1="626.4" y1="112.4" x2="626.4" y2="140.3" stroke="#333" stroke-width="0.7"/>
<line x1="623.1999999999999" y1="112.4" x2="629.6" y2="112.4" stroke="#333" stroke-width="0.7"/>
<line x1="626.4" y1="169.5" x2="626.4" y2="173.3" stroke="#333" stroke-width="0.7"/>
<line x1="623.1999999999999" y1="173.3" x2="629.6" y2="173.3" stroke="#333" stroke-width="0.7"/>
<rect x="619.30" y="140.30" width="14.2" height="29.20" fill="#4b5628" stroke="#3a3a3a" stroke-width="0.7"/>
<line x1="619.30" y1="160.5" x2="633.50" y2="160.5" stroke="#222" stroke-width="0.9"/>
<rect x="640.60" y="170.90" width="14.2" height="2.40" fill="#8fac55" stroke="#3a3a3a" stroke-width="0.5"/>
<line x1="669.5" y1="167.2" x2="669.5" y2="169.1" stroke="#333" stroke-width="0.7"/>
<line x1="666.3" y1="167.2" x2="672.7" y2="167.2" stroke="#333" stroke-width="0.7"/>
<rect x="662.40" y="169.10" width="14.2" height="4.20" fill="#8fac55" stroke="#3a3a3a" stroke-width="0.5"/>
<path d="M647.8 165.2 l1.6 2.8 h-3.2 Z" fill="#ee1c1c"/>
<path d="M669.6 128.2 l1.6 2.8 h-3.2 Z" fill="#ee1c1c"/>
<path d="M611.8 109.90 H683.4 V173.30 M609.3 173.30 H683.4" stroke="#2a2a2a" stroke-width="1.1" fill="none"/>
<line x1="611.8" y1="110.40" x2="611.8" y2="172.80" stroke="#7a7a7a" stroke-width="1.2"/>
<line x1="609.3" y1="109.90" x2="611.8" y2="109.90" stroke="#2a2a2a" stroke-width="1.1"/>
<rect x="404.00" y="239.22" width="7.46" height="4.68" fill="#d6bf3a"/>
<rect x="412.26" y="198.32" width="7.46" height="45.58" fill="#d6bf3a"/>
<rect x="420.51" y="239.79" width="7.46" height="4.11" fill="#d6bf3a"/>
<rect x="428.77" y="243.58" width="7.46" height="0.32" fill="#d6bf3a"/>
<rect x="437.02" y="243.52" width="7.46" height="0.38" fill="#d6bf3a"/>
<rect x="445.28" y="241.21" width="7.46" height="2.69" fill="#d6bf3a"/>
<rect x="470.05" y="243.52" width="7.46" height="0.38" fill="#d6bf3a"/>
<rect x="478.31" y="233.93" width="7.46" height="9.97" fill="#d6bf3a"/>
<rect x="486.56" y="232.82" width="7.46" height="11.08" fill="#d6bf3a"/>
<rect x="494.82" y="229.72" width="7.46" height="14.18" fill="#d6bf3a"/>
<rect x="503.07" y="220.48" width="7.46" height="23.42" fill="#d6bf3a"/>
<rect x="511.33" y="219.59" width="7.46" height="24.31" fill="#d6bf3a"/>
<rect x="519.59" y="224.47" width="7.46" height="19.43" fill="#d6bf3a"/>
<rect x="527.84" y="242.63" width="7.46" height="1.27" fill="#d6bf3a"/>
<rect x="544.36" y="235.54" width="7.46" height="8.36" fill="#d6bf3a"/>
<rect x="552.61" y="243.01" width="7.46" height="0.89" fill="#d6bf3a"/>
<rect x="560.87" y="241.49" width="7.46" height="2.41" fill="#d6bf3a"/>
<rect x="569.12" y="239.91" width="7.46" height="3.99" fill="#d6bf3a"/>
<rect x="577.38" y="240.99" width="7.46" height="2.91" fill="#d6bf3a"/>
<rect x="585.64" y="190.47" width="7.46" height="53.43" fill="#d6bf3a"/>
<line x1="478.01" y1="181.20" x2="478.01" y2="243.90" stroke="#e8262b" stroke-width="1" stroke-dasharray="2.8 2.1"/>
<line x1="527.54" y1="181.20" x2="527.54" y2="243.90" stroke="#e8262b" stroke-width="1" stroke-dasharray="2.8 2.1"/>
<path d="M403.50 180.60 H601.65 V243.90" fill="none" stroke="#262626" stroke-width="1.2"/>
<path d="M403.50 180.00 V243.90 H602.25" fill="none" stroke="#111" stroke-width="1.1"/>
<line x1="399.2" y1="243.90" x2="403.50" y2="243.90" stroke="#2a2a2a" stroke-width="1"/>
<text x="397.8" y="246.85" font-size="8.2" fill="#111" stroke="#111" stroke-width="0.05" text-anchor="end">0</text>
<line x1="399.2" y1="231.24" x2="403.50" y2="231.24" stroke="#2a2a2a" stroke-width="1"/>
<text x="397.8" y="234.19" font-size="8.2" fill="#111" stroke="#111" stroke-width="0.05" text-anchor="end">2000</text>
<line x1="399.2" y1="218.58" x2="403.50" y2="218.58" stroke="#2a2a2a" stroke-width="1"/>
<text x="397.8" y="221.53" font-size="8.2" fill="#111" stroke="#111" stroke-width="0.05" text-anchor="end">4000</text>
<line x1="399.2" y1="205.92" x2="403.50" y2="205.92" stroke="#2a2a2a" stroke-width="1"/>
<text x="397.8" y="208.87" font-size="8.2" fill="#111" stroke="#111" stroke-width="0.05" text-anchor="end">6000</text>
<line x1="399.2" y1="193.26" x2="403.50" y2="193.26" stroke="#2a2a2a" stroke-width="1"/>
<text x="397.8" y="196.21" font-size="8.2" fill="#111" stroke="#111" stroke-width="0.05" text-anchor="end">8000</text>
<line x1="399.2" y1="180.60" x2="403.50" y2="180.60" stroke="#2a2a2a" stroke-width="1"/>
<text x="397.8" y="183.55" font-size="7.6" fill="#111" stroke="#111" stroke-width="0.05" text-anchor="end">10000</text>
<text x="597.9" y="188.90" font-size="8.35" font-weight="bold" fill="#111" stroke="#111" stroke-width="0.2" text-anchor="end">Protein 2</text>
<rect x="637.50" y="180.60" width="20.2" height="63.30" fill="#f7f6da"/>
<line x1="609.3" y1="243.90" x2="611.8" y2="243.90" stroke="#2a2a2a" stroke-width="1"/>
<line x1="609.3" y1="231.24" x2="611.8" y2="231.24" stroke="#2a2a2a" stroke-width="1"/>
<line x1="609.3" y1="218.58" x2="611.8" y2="218.58" stroke="#2a2a2a" stroke-width="1"/>
<line x1="609.3" y1="205.92" x2="611.8" y2="205.92" stroke="#2a2a2a" stroke-width="1"/>
<line x1="609.3" y1="193.26" x2="611.8" y2="193.26" stroke="#2a2a2a" stroke-width="1"/>
<line x1="609.3" y1="180.60" x2="611.8" y2="180.60" stroke="#2a2a2a" stroke-width="1"/>
<line x1="626.4" y1="238.6" x2="626.4" y2="239.2" stroke="#333" stroke-width="0.7"/>
<line x1="623.1999999999999" y1="238.6" x2="629.6" y2="238.6" stroke="#333" stroke-width="0.7"/>
<rect x="619.30" y="239.20" width="14.2" height="4.70" fill="#ecdf8a" stroke="#3a3a3a" stroke-width="0.5"/>
<line x1="647.7" y1="218.7" x2="647.7" y2="219.4" stroke="#333" stroke-width="0.7"/>
<line x1="644.5" y1="218.7" x2="650.9000000000001" y2="218.7" stroke="#333" stroke-width="0.7"/>
<line x1="647.7" y1="232.3" x2="647.7" y2="233.3" stroke="#333" stroke-width="0.7"/>
<line x1="644.5" y1="233.3" x2="650.9000000000001" y2="233.3" stroke="#333" stroke-width="0.7"/>
<rect x="640.60" y="219.40" width="14.2" height="12.90" fill="#d6bf3a" stroke="#3a3a3a" stroke-width="0.7"/>
<line x1="640.60" y1="226.1" x2="654.80" y2="226.1" stroke="#222" stroke-width="0.9"/>
<line x1="669.5" y1="235.2" x2="669.5" y2="237.1" stroke="#333" stroke-width="0.7"/>
<line x1="666.3" y1="235.2" x2="672.7" y2="235.2" stroke="#333" stroke-width="0.7"/>
<rect x="662.40" y="237.10" width="14.2" height="6.80" fill="#ecdf8a" stroke="#3a3a3a" stroke-width="0.7"/>
<line x1="662.40" y1="241.4" x2="676.60" y2="241.4" stroke="#222" stroke-width="0.9"/>
<path d="M626.4 197.3 l1.6 2.8 h-3.2 Z" fill="#ee1c1c"/>
<path d="M669.2 188.4 l1.6 2.8 h-3.2 Z" fill="#ee1c1c"/>
<path d="M611.8 180.60 H683.4 V243.90 M609.3 243.90 H683.4" stroke="#2a2a2a" stroke-width="1.1" fill="none"/>
<line x1="611.8" y1="181.10" x2="611.8" y2="243.40" stroke="#7a7a7a" stroke-width="1.2"/>
<line x1="609.3" y1="180.60" x2="611.8" y2="180.60" stroke="#2a2a2a" stroke-width="1.1"/>
<rect x="404.00" y="304.68" width="7.46" height="7.02" fill="#9db661"/>
<rect x="412.26" y="302.79" width="7.46" height="8.91" fill="#9db661"/>
<rect x="420.51" y="306.08" width="7.46" height="5.62" fill="#9db661"/>
<rect x="428.77" y="311.40" width="7.46" height="0.30" fill="#9db661"/>
<rect x="445.28" y="311.40" width="7.46" height="0.30" fill="#9db661"/>
<rect x="478.31" y="311.47" width="7.46" height="0.23" fill="#9db661"/>
<rect x="494.82" y="310.57" width="7.46" height="1.13" fill="#9db661"/>
<rect x="519.59" y="309.51" width="7.46" height="2.19" fill="#9db661"/>
<rect x="527.84" y="289.43" width="7.46" height="22.27" fill="#9db661"/>
<rect x="544.36" y="257.34" width="7.46" height="54.36" fill="#9db661"/>
<rect x="552.61" y="293.05" width="7.46" height="18.65" fill="#9db661"/>
<rect x="560.87" y="305.28" width="7.46" height="6.42" fill="#9db661"/>
<rect x="569.12" y="278.78" width="7.46" height="32.92" fill="#9db661"/>
<rect x="577.38" y="293.05" width="7.46" height="18.65" fill="#9db661"/>
<rect x="585.64" y="285.50" width="7.46" height="26.20" fill="#9db661"/>
<rect x="593.89" y="305.28" width="7.46" height="6.42" fill="#9db661"/>
<line x1="478.01" y1="251.90" x2="478.01" y2="311.70" stroke="#e8262b" stroke-width="1" stroke-dasharray="2.8 2.1"/>
<line x1="527.54" y1="251.90" x2="527.54" y2="311.70" stroke="#e8262b" stroke-width="1" stroke-dasharray="2.8 2.1"/>
<path d="M403.50 251.30 H601.65 V311.70" fill="none" stroke="#262626" stroke-width="1.2"/>
<path d="M403.50 250.70 V311.70 H602.25" fill="none" stroke="#111" stroke-width="1.1"/>
<line x1="399.2" y1="311.70" x2="403.50" y2="311.70" stroke="#2a2a2a" stroke-width="1"/>
<text x="397.8" y="314.65" font-size="8.2" fill="#111" stroke="#111" stroke-width="0.05" text-anchor="end">0</text>
<line x1="399.2" y1="296.60" x2="403.50" y2="296.60" stroke="#2a2a2a" stroke-width="1"/>
<text x="397.8" y="299.55" font-size="8.2" fill="#111" stroke="#111" stroke-width="0.05" text-anchor="end">2000</text>
<line x1="399.2" y1="281.50" x2="403.50" y2="281.50" stroke="#2a2a2a" stroke-width="1"/>
<text x="397.8" y="284.45" font-size="8.2" fill="#111" stroke="#111" stroke-width="0.05" text-anchor="end">4000</text>
<line x1="399.2" y1="266.40" x2="403.50" y2="266.40" stroke="#2a2a2a" stroke-width="1"/>
<text x="397.8" y="269.35" font-size="8.2" fill="#111" stroke="#111" stroke-width="0.05" text-anchor="end">6000</text>
<line x1="399.2" y1="251.30" x2="403.50" y2="251.30" stroke="#2a2a2a" stroke-width="1"/>
<text x="397.8" y="254.25" font-size="8.2" fill="#111" stroke="#111" stroke-width="0.05" text-anchor="end">8000</text>
<text x="598.3" y="259.60" font-size="8.35" font-weight="bold" fill="#111" stroke="#111" stroke-width="0.2" text-anchor="end">Protein 3</text>
<rect x="659.30" y="251.30" width="20.2" height="60.40" fill="#eef2e6"/>
<line x1="609.3" y1="311.70" x2="611.8" y2="311.70" stroke="#2a2a2a" stroke-width="1"/>
<line x1="609.3" y1="296.60" x2="611.8" y2="296.60" stroke="#2a2a2a" stroke-width="1"/>
<line x1="609.3" y1="281.50" x2="611.8" y2="281.50" stroke="#2a2a2a" stroke-width="1"/>
<line x1="609.3" y1="266.40" x2="611.8" y2="266.40" stroke="#2a2a2a" stroke-width="1"/>
<line x1="609.3" y1="251.30" x2="611.8" y2="251.30" stroke="#2a2a2a" stroke-width="1"/>
<line x1="626.4" y1="302.2" x2="626.4" y2="305.2" stroke="#333" stroke-width="0.7"/>
<line x1="623.1999999999999" y1="302.2" x2="629.6" y2="302.2" stroke="#333" stroke-width="0.7"/>
<rect x="619.30" y="305.20" width="14.2" height="6.50" fill="#c8dba6" stroke="#3a3a3a" stroke-width="0.7"/>
<line x1="647.7" y1="308.4" x2="647.7" y2="309.4" stroke="#333" stroke-width="0.7"/>
<line x1="644.5" y1="308.4" x2="650.9000000000001" y2="308.4" stroke="#333" stroke-width="0.7"/>
<rect x="640.60" y="309.40" width="14.2" height="2.30" fill="#c8dba6" stroke="#3a3a3a" stroke-width="0.5"/>
<line x1="669.5" y1="257.1" x2="669.5" y2="281.6" stroke="#333" stroke-width="0.7"/>
<line x1="666.3" y1="257.1" x2="672.7" y2="257.1" stroke="#333" stroke-width="0.7"/>
<line x1="669.5" y1="305.0" x2="669.5" y2="311.7" stroke="#333" stroke-width="0.7"/>
<line x1="666.3" y1="311.7" x2="672.7" y2="311.7" stroke="#333" stroke-width="0.7"/>
<rect x="662.40" y="281.60" width="14.2" height="23.40" fill="#9db661" stroke="#3a3a3a" stroke-width="0.7"/>
<line x1="662.40" y1="292.2" x2="676.60" y2="292.2" stroke="#222" stroke-width="0.9"/>
<path d="M611.8 251.30 H683.4 V311.70 M609.3 311.70 H683.4" stroke="#2a2a2a" stroke-width="1.1" fill="none"/>
<line x1="611.8" y1="251.80" x2="611.8" y2="311.20" stroke="#7a7a7a" stroke-width="1.2"/>
<line x1="609.3" y1="251.30" x2="611.8" y2="251.30" stroke="#2a2a2a" stroke-width="1.1"/>
<line x1="407.63" y1="311.7" x2="407.63" y2="315.7" stroke="#2a2a2a" stroke-width="1"/>
<text transform="translate(409.63,316.6) rotate(-90)" font-size="6.6" fill="#3a3a3a" text-anchor="end">hp1_1</text>
<line x1="415.88" y1="311.7" x2="415.88" y2="315.7" stroke="#2a2a2a" stroke-width="1"/>
<text transform="translate(417.88,316.6) rotate(-90)" font-size="6.6" fill="#3a3a3a" text-anchor="end">hp1_2</text>
<line x1="424.14" y1="311.7" x2="424.14" y2="315.7" stroke="#2a2a2a" stroke-width="1"/>
<text transform="translate(426.14,316.6) rotate(-90)" font-size="6.6" fill="#3a3a3a" text-anchor="end">hp1_3</text>
<line x1="432.40" y1="311.7" x2="432.40" y2="315.7" stroke="#2a2a2a" stroke-width="1"/>
<text transform="translate(434.40,316.6) rotate(-90)" font-size="6.6" fill="#3a3a3a" text-anchor="end">hp1_4</text>
<line x1="440.65" y1="311.7" x2="440.65" y2="315.7" stroke="#2a2a2a" stroke-width="1"/>
<text transform="translate(442.65,316.6) rotate(-90)" font-size="6.6" fill="#3a3a3a" text-anchor="end">hp1_5</text>
<line x1="448.91" y1="311.7" x2="448.91" y2="315.7" stroke="#2a2a2a" stroke-width="1"/>
<text transform="translate(450.91,316.6) rotate(-90)" font-size="6.6" fill="#3a3a3a" text-anchor="end">hp1_6</text>
<line x1="457.17" y1="311.7" x2="457.17" y2="315.7" stroke="#2a2a2a" stroke-width="1"/>
<text transform="translate(459.17,316.6) rotate(-90)" font-size="6.6" fill="#3a3a3a" text-anchor="end">hp1_7</text>
<line x1="465.42" y1="311.7" x2="465.42" y2="315.7" stroke="#2a2a2a" stroke-width="1"/>
<text transform="translate(467.42,316.6) rotate(-90)" font-size="6.6" fill="#3a3a3a" text-anchor="end">hp1_8</text>
<line x1="473.68" y1="311.7" x2="473.68" y2="315.7" stroke="#2a2a2a" stroke-width="1"/>
<text transform="translate(475.68,316.6) rotate(-90)" font-size="6.6" fill="#3a3a3a" text-anchor="end">hp1_9</text>
<line x1="481.93" y1="311.7" x2="481.93" y2="315.7" stroke="#2a2a2a" stroke-width="1"/>
<text transform="translate(483.93,316.6) rotate(-90)" font-size="6.6" fill="#3a3a3a" text-anchor="end">hp2_1</text>
<line x1="490.19" y1="311.7" x2="490.19" y2="315.7" stroke="#2a2a2a" stroke-width="1"/>
<text transform="translate(492.19,316.6) rotate(-90)" font-size="6.6" fill="#3a3a3a" text-anchor="end">hp2_2</text>
<line x1="498.45" y1="311.7" x2="498.45" y2="315.7" stroke="#2a2a2a" stroke-width="1"/>
<text transform="translate(500.45,316.6) rotate(-90)" font-size="6.6" fill="#3a3a3a" text-anchor="end">hp2_3</text>
<line x1="506.70" y1="311.7" x2="506.70" y2="315.7" stroke="#2a2a2a" stroke-width="1"/>
<text transform="translate(508.70,316.6) rotate(-90)" font-size="6.6" fill="#3a3a3a" text-anchor="end">hp2_4</text>
<line x1="514.96" y1="311.7" x2="514.96" y2="315.7" stroke="#2a2a2a" stroke-width="1"/>
<text transform="translate(516.96,316.6) rotate(-90)" font-size="6.6" fill="#3a3a3a" text-anchor="end">hp2_5</text>
<line x1="523.22" y1="311.7" x2="523.22" y2="315.7" stroke="#2a2a2a" stroke-width="1"/>
<text transform="translate(525.22,316.6) rotate(-90)" font-size="6.6" fill="#3a3a3a" text-anchor="end">hp2_6</text>
<line x1="531.47" y1="311.7" x2="531.47" y2="315.7" stroke="#2a2a2a" stroke-width="1"/>
<text transform="translate(533.47,316.6) rotate(-90)" font-size="6.6" fill="#3a3a3a" text-anchor="end">hp3_2</text>
<line x1="539.73" y1="311.7" x2="539.73" y2="315.7" stroke="#2a2a2a" stroke-width="1"/>
<text transform="translate(541.73,316.6) rotate(-90)" font-size="6.6" fill="#3a3a3a" text-anchor="end">hp3_3</text>
<line x1="547.98" y1="311.7" x2="547.98" y2="315.7" stroke="#2a2a2a" stroke-width="1"/>
<text transform="translate(549.98,316.6) rotate(-90)" font-size="6.6" fill="#3a3a3a" text-anchor="end">hp3_4</text>
<line x1="556.24" y1="311.7" x2="556.24" y2="315.7" stroke="#2a2a2a" stroke-width="1"/>
<text transform="translate(558.24,316.6) rotate(-90)" font-size="6.6" fill="#3a3a3a" text-anchor="end">hp3_5</text>
<line x1="564.50" y1="311.7" x2="564.50" y2="315.7" stroke="#2a2a2a" stroke-width="1"/>
<text transform="translate(566.50,316.6) rotate(-90)" font-size="6.6" fill="#3a3a3a" text-anchor="end">hp3_6</text>
<line x1="572.75" y1="311.7" x2="572.75" y2="315.7" stroke="#2a2a2a" stroke-width="1"/>
<text transform="translate(574.75,316.6) rotate(-90)" font-size="6.6" fill="#3a3a3a" text-anchor="end">hp3_7</text>
<line x1="581.01" y1="311.7" x2="581.01" y2="315.7" stroke="#2a2a2a" stroke-width="1"/>
<text transform="translate(583.01,316.6) rotate(-90)" font-size="6.6" fill="#3a3a3a" text-anchor="end">hp3_9</text>
<line x1="589.27" y1="311.7" x2="589.27" y2="315.7" stroke="#2a2a2a" stroke-width="1"/>
<text transform="translate(591.27,316.6) rotate(-90)" font-size="6.6" fill="#3a3a3a" text-anchor="end">hp3_10</text>
<line x1="597.52" y1="311.7" x2="597.52" y2="315.7" stroke="#2a2a2a" stroke-width="1"/>
<text transform="translate(599.52,316.6) rotate(-90)" font-size="6.6" fill="#3a3a3a" text-anchor="end">hp3_11</text>
<line x1="626.4" y1="311.7" x2="626.4" y2="315.6" stroke="#2a2a2a" stroke-width="1"/>
<text x="626.4" y="323.9" font-size="7.4" fill="#111" stroke="#111" stroke-width="0.3" text-anchor="middle">hp1</text>
<line x1="647.7" y1="311.7" x2="647.7" y2="315.6" stroke="#2a2a2a" stroke-width="1"/>
<text x="647.7" y="323.9" font-size="7.4" fill="#111" stroke="#111" stroke-width="0.3" text-anchor="middle">hp2</text>
<line x1="669.5" y1="311.7" x2="669.5" y2="315.6" stroke="#2a2a2a" stroke-width="1"/>
<text x="669.5" y="323.9" font-size="7.4" fill="#111" stroke="#111" stroke-width="0.3" text-anchor="middle">hp3</text>
<text x="647.6" y="332.9" font-size="6.7" font-weight="bold" fill="#111" stroke="#111" stroke-width="0.25" text-anchor="middle">Protein identification</text>
<text transform="translate(374.0,210.2) rotate(-90)" font-size="9.65" font-weight="bold" fill="#111" stroke="#111" stroke-width="0.15" text-anchor="middle">Predicted reads number</text>
</svg>
</body></html>
